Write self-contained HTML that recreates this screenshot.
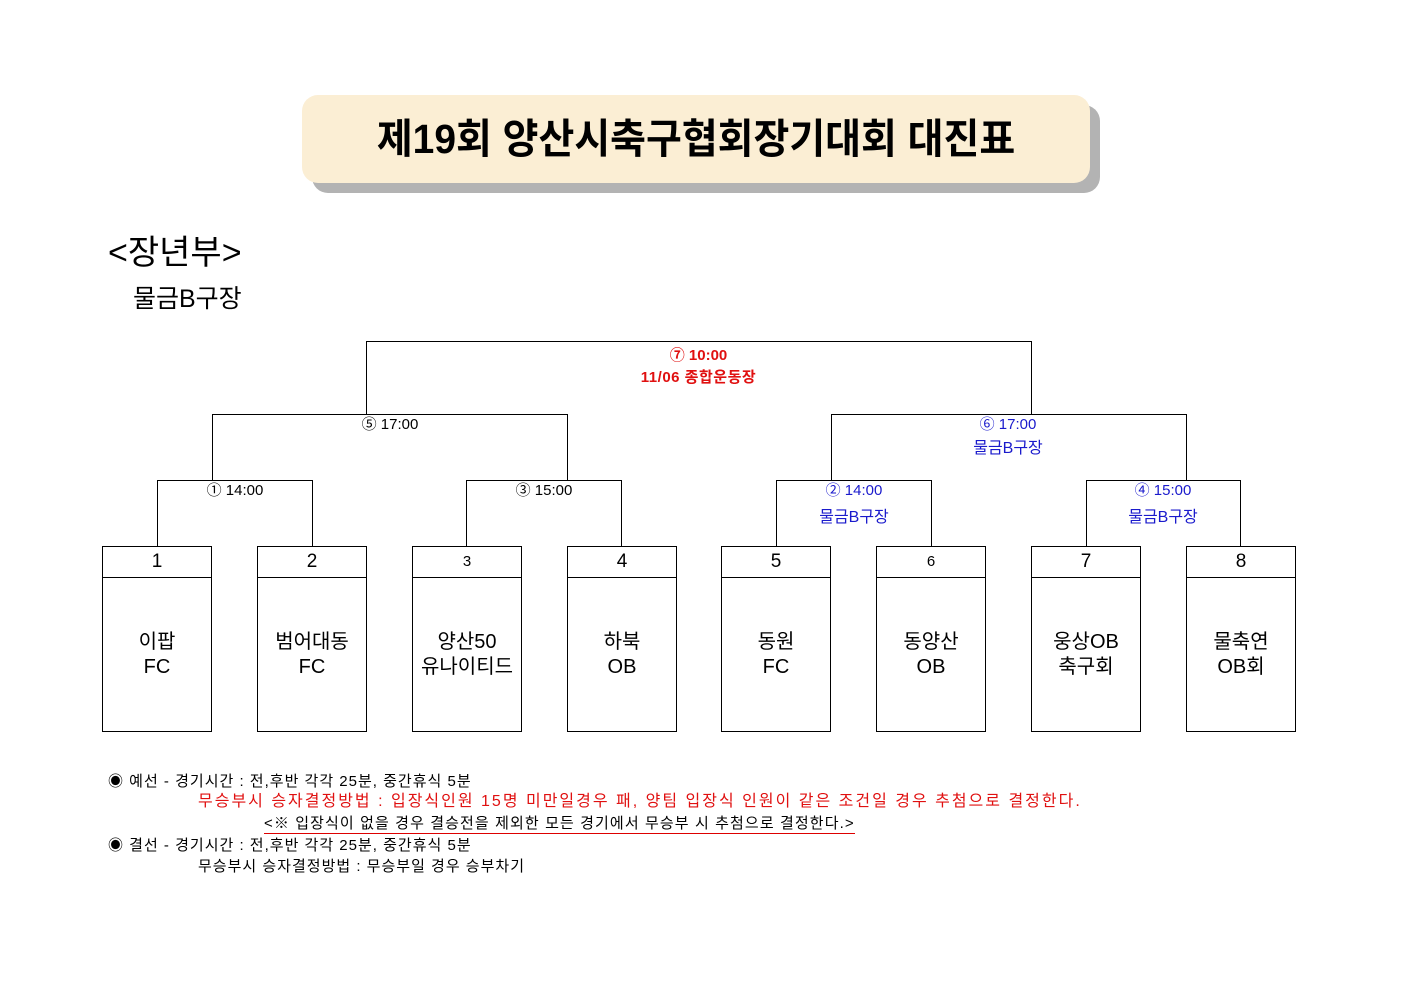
<!DOCTYPE html>
<html><head><meta charset="utf-8"><style>
body{margin:0;width:1403px;height:992px;background:#fff;position:relative;overflow:hidden;font-family:"Liberation Sans","Noto Sans CJK KR",sans-serif;color:#000}
.a{position:absolute}
.l{position:absolute;background:#000}
.t{position:absolute;text-align:center;white-space:nowrap}
.box{position:absolute;width:110px;height:186px;border:1px solid #000;box-sizing:border-box}
.box .n{height:30px;border-bottom:1px solid #000;text-align:center;font-size:19px;line-height:29px}
.box .m{text-align:center;font-size:20px;line-height:25px;padding-top:52px}
.blue{color:#1a1acc}.red{color:#e01010}
.nt{font-size:15px;line-height:21px;letter-spacing:1px;white-space:nowrap}
</style></head><body>
<div class="a" style="left:312px;top:105px;width:788px;height:88px;border-radius:16px;background:#b3b3b3"></div>
<div class="a" style="left:302px;top:95px;width:788px;height:88px;border-radius:16px;background:#fbeed4"></div>
<div class="t" style="left:302px;top:113px;width:788px;font-size:41px;font-weight:bold;line-height:52px;transform:scaleX(0.95)">제19회 양산시축구협회장기대회 대진표</div>

<div class="a" style="left:108px;top:233px;font-size:34px;line-height:40px">&lt;장년부&gt;</div>
<div class="a" style="left:133px;top:283px;font-size:25px;line-height:32px">물금B구장</div>

<div class="l" style="left:366px;top:341px;width:666px;height:1px"></div>
<div class="l" style="left:366px;top:341px;width:1px;height:74px"></div>
<div class="l" style="left:1031px;top:341px;width:1px;height:74px"></div>
<div class="t red" style="left:566px;top:345px;width:265px;font-size:15px;font-weight:bold;line-height:21px">⑦ 10:00</div>
<div class="t red" style="left:566px;top:367px;width:265px;font-size:15px;font-weight:bold;line-height:21px;letter-spacing:0.5px">11/06 종합운동장</div>

<div class="l" style="left:212px;top:414px;width:356px;height:1px"></div>
<div class="l" style="left:212px;top:414px;width:1px;height:67px"></div>
<div class="l" style="left:567px;top:414px;width:1px;height:67px"></div>
<div class="t" style="left:290px;top:414px;width:200px;font-size:15px;line-height:21px">⑤ 17:00</div>
<div class="l" style="left:831px;top:414px;width:356px;height:1px"></div>
<div class="l" style="left:831px;top:414px;width:1px;height:67px"></div>
<div class="l" style="left:1186px;top:414px;width:1px;height:67px"></div>
<div class="t blue" style="left:908px;top:414px;width:200px;font-size:15px;line-height:21px">⑥ 17:00</div>
<div class="t blue" style="left:908px;top:438px;width:200px;font-size:16px;line-height:21px">물금B구장</div>

<div class="l" style="left:157px;top:480px;width:156px;height:1px"></div>
<div class="l" style="left:157px;top:480px;width:1px;height:67px"></div>
<div class="l" style="left:312px;top:480px;width:1px;height:67px"></div>
<div class="t" style="left:135px;top:480px;width:200px;font-size:15px;line-height:21px">① 14:00</div>

<div class="l" style="left:466px;top:480px;width:156px;height:1px"></div>
<div class="l" style="left:466px;top:480px;width:1px;height:67px"></div>
<div class="l" style="left:621px;top:480px;width:1px;height:67px"></div>
<div class="t" style="left:444px;top:480px;width:200px;font-size:15px;line-height:21px">③ 15:00</div>

<div class="l" style="left:776px;top:480px;width:156px;height:1px"></div>
<div class="l" style="left:776px;top:480px;width:1px;height:67px"></div>
<div class="l" style="left:931px;top:480px;width:1px;height:67px"></div>
<div class="t blue" style="left:754px;top:480px;width:200px;font-size:15px;line-height:21px">② 14:00</div>
<div class="t blue" style="left:754px;top:507px;width:200px;font-size:16px;line-height:21px">물금B구장</div>

<div class="l" style="left:1086px;top:480px;width:155px;height:1px"></div>
<div class="l" style="left:1086px;top:480px;width:1px;height:67px"></div>
<div class="l" style="left:1240px;top:480px;width:1px;height:67px"></div>
<div class="t blue" style="left:1063px;top:480px;width:200px;font-size:15px;line-height:21px">④ 15:00</div>
<div class="t blue" style="left:1063px;top:507px;width:200px;font-size:16px;line-height:21px">물금B구장</div>

<div class="box" style="left:102px;top:546px"><div class="n">1</div><div class="m">이팝<br>FC</div></div>
<div class="box" style="left:257px;top:546px"><div class="n">2</div><div class="m">범어대동<br>FC</div></div>
<div class="box" style="left:412px;top:546px"><div class="n" style="font-size:15px">3</div><div class="m">양산50<br>유나이티드</div></div>
<div class="box" style="left:567px;top:546px"><div class="n">4</div><div class="m">하북<br>OB</div></div>
<div class="box" style="left:721px;top:546px"><div class="n">5</div><div class="m">동원<br>FC</div></div>
<div class="box" style="left:876px;top:546px"><div class="n" style="font-size:15px">6</div><div class="m">동양산<br>OB</div></div>
<div class="box" style="left:1031px;top:546px"><div class="n">7</div><div class="m">웅상OB<br>축구회</div></div>
<div class="box" style="left:1186px;top:546px"><div class="n">8</div><div class="m">물축연<br>OB회</div></div>

<div class="a nt" style="left:108px;top:771px">◉ 예선 - 경기시간 : 전,후반 각각 25분, 중간휴식 5분</div>
<div class="a nt red" style="left:198px;top:791px;font-size:16px;letter-spacing:2px">무승부시 승자결정방법 : 입장식인원 15명 미만일경우 패, 양팀 입장식 인원이 같은 조건일 경우 추첨으로 결정한다.</div>
<div class="a nt" style="left:264px;top:814px;border-bottom:1px solid #d00;line-height:19px;letter-spacing:1.1px">&lt;※ 입장식이 없을 경우 결승전을 제외한 모든 경기에서 무승부 시 추첨으로 결정한다.&gt;</div>
<div class="a nt" style="left:108px;top:835px">◉ 결선 - 경기시간 : 전,후반 각각 25분, 중간휴식 5분</div>
<div class="a nt" style="left:198px;top:856px">무승부시 승자결정방법 : 무승부일 경우 승부차기</div>
</body></html>
